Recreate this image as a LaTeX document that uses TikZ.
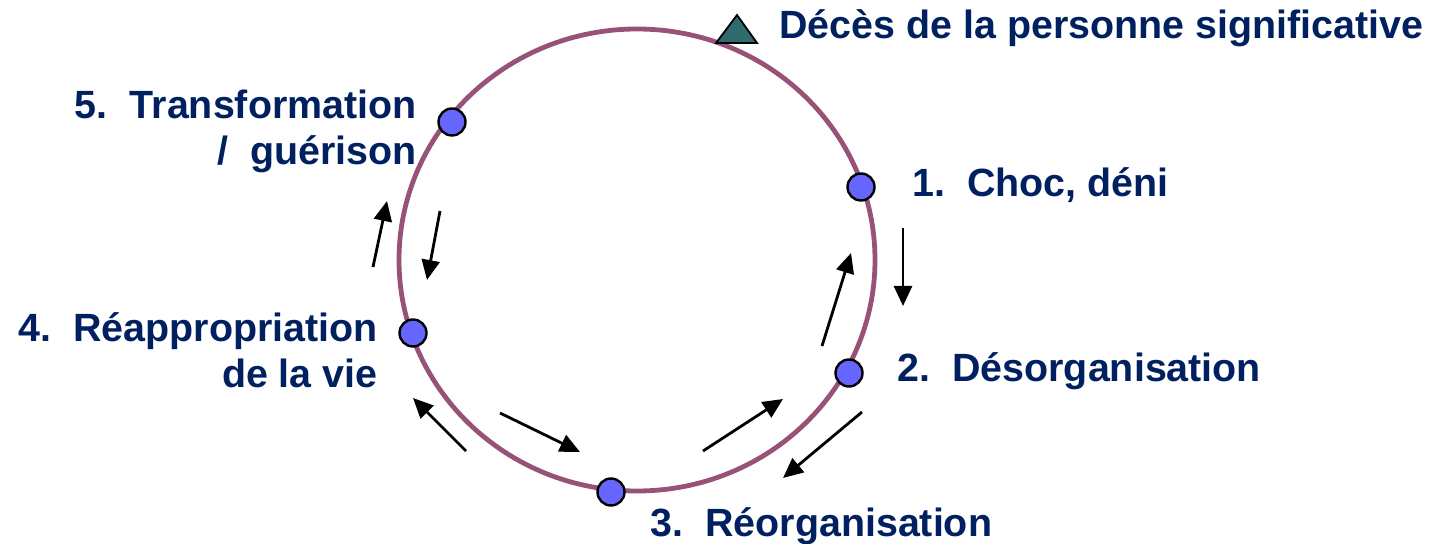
\documentclass[tikz,border=0pt]{standalone}
\usepackage{fontspec}
\setmainfont{Liberation Sans}
\usetikzlibrary{arrows.meta}
\definecolor{navy}{RGB}{0,32,96}
\definecolor{ring}{RGB}{152,82,120}
\definecolor{stagefill}{RGB}{102,102,255}
\definecolor{teal}{RGB}{46,106,110}
\tikzset{
  stage/.style={circle, draw=black, line width=1.2pt, fill=stagefill, minimum size=13.5pt, inner sep=0pt},
  lbl/.style={text=navy, font=\fontsize{19.7}{23.3}\selectfont\bfseries, inner sep=0pt},
  flow/.style={line width=1.4pt, -{Triangle[length=10pt,width=9pt]}},
}
\newcommand{\gap}{\hspace{0.56em}}
\begin{document}
\begin{tikzpicture}[x=0.5pt,y=-0.5pt]
\useasboundingbox (0,0) rectangle (1433,544);
% the cycle
\draw[ring, line width=2.4pt] (637,260) ellipse [x radius=119pt, y radius=115.5pt];
% starting event
\draw[fill=teal, draw=black, line width=0.9pt] (716,43) -- (757,43) -- (737,15) -- cycle;
\node[lbl, anchor=base west] (death) at (779,39) {Décès de la personne significative};
% stages on the cycle
\node[stage] (s1) at (861,187) {};
\node[stage] (s2) at (849,373) {};
\node[stage] (s3) at (611,492) {};
\node[stage] (s4) at (413,333) {};
\node[stage] (s5) at (452,122) {};
% stage labels (multi-line ones are anchored on their last line)
\node[lbl, anchor=base west] (l1) at (912,197) {1.\gap Choc, déni};
\node[lbl, anchor=base west] (l2) at (897,382) {2.\gap Désorganisation};
\node[lbl, anchor=base west] (l3) at (650,536) {3.\gap Réorganisation};
\node[lbl, anchor=base east, align=right] (l4) at (378,388) {4.\gap Réappropriation\\de la vie};
\node[lbl, anchor=base east, align=right] (l5) at (417,165) {5.\gap Transformation\\/\gap guérison};
% movement along the cycle
\coordinate (a1t) at (903,228); \coordinate (a1h) at (903,306);
\coordinate (a2t) at (822,346); \coordinate (a2h) at (851,253);
\coordinate (a3t) at (862,412); \coordinate (a3h) at (783,478);
\coordinate (a4t) at (703,451); \coordinate (a4h) at (783,399);
\coordinate (a5t) at (500,413); \coordinate (a5h) at (580,452);
\coordinate (a6t) at (466,451); \coordinate (a6h) at (413,398);
\coordinate (a7t) at (373,267); \coordinate (a7h) at (387,201);
\coordinate (a8t) at (440,211); \coordinate (a8h) at (427,280);
\foreach \i in {1,...,8} \draw[flow] (a\i t) -- (a\i h);
\end{tikzpicture}
\end{document}
